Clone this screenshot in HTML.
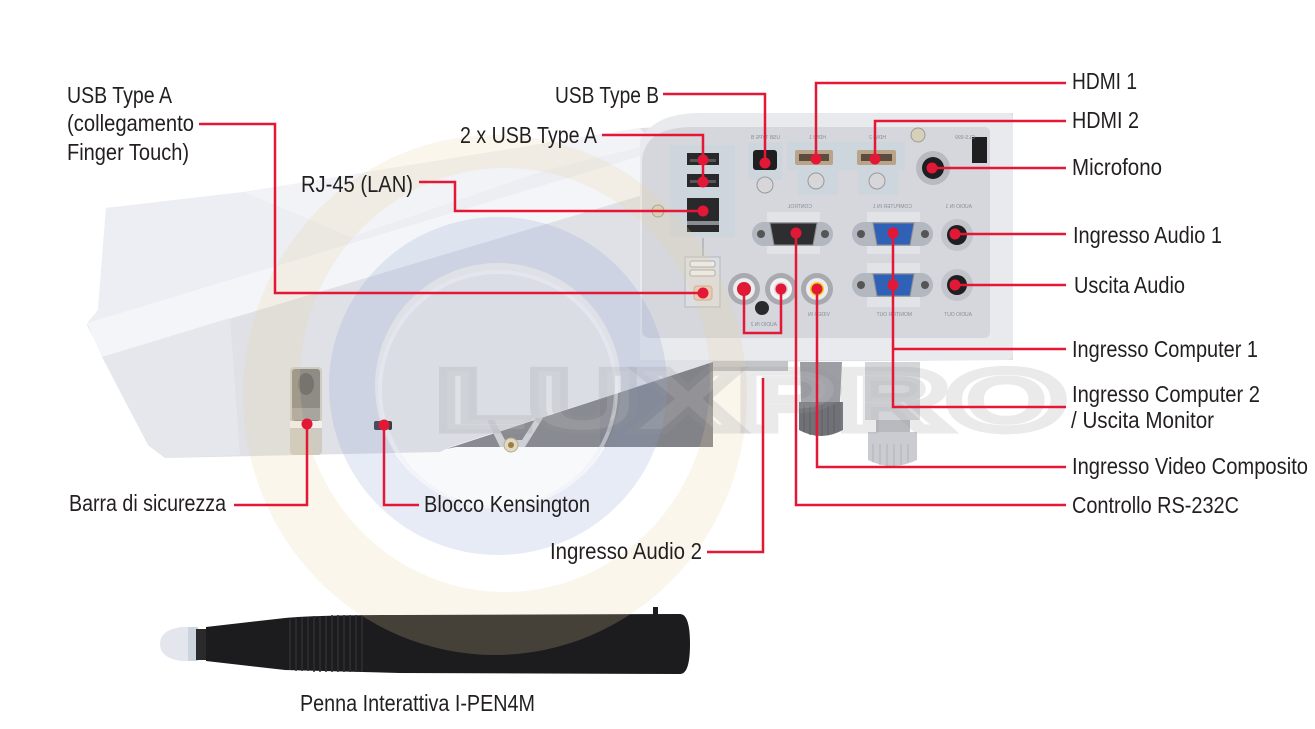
<!DOCTYPE html>
<html><head><meta charset="utf-8"><style>
html,body{margin:0;padding:0;background:#fff;}
svg{display:block;}
.t{font-family:"Liberation Sans Narrow","Liberation Sans",Arial,sans-serif;font-size:23px;fill:#231f20;}
.m{font-family:"Liberation Sans",sans-serif;font-size:5px;fill:#8a8d94;}
</style></head><body>
<svg width="1315" height="729" viewBox="0 0 1315 729" xmlns="http://www.w3.org/2000/svg">
<rect width="1315" height="729" fill="#fff"/>

<!-- projector body -->
<path d="M106,208 L244,192 L640,128 L1013,113 L1013,360 L713,362 L450,447 L440,452 L165,458 L148,445 L87,325 L98,310 Z" fill="#dfe1e7"/>
<path d="M106,208 L244,192 L640,128 L660,150 L87,323 L98,310 Z" fill="#eceef3"/>
<path d="M244,192 L640,128 L646,146 L546,170 L351,237 Z" fill="#f2f3f6"/>
<path d="M87,323 L660,150 L660,190 L102,357 Z" fill="#f4f5f8"/>
<path d="M102,357 L230,318 L240,455 L165,458 L148,445 Z" fill="#e5e7ec"/>
<!-- underside dark -->
<path d="M446,449 L713,362 L713,447 L456,447 Z" fill="#88898f"/>
<path d="M600,400 L713,362 L713,447 L600,447 Z" fill="#7c7d83" opacity="0.5"/>
<rect x="713" y="361" width="75" height="10" fill="#c4c5c9"/>
<path d="M487,420 L500,447 L525,447 L543,418 L536,418 L522,440 L505,440 L494,420 Z" fill="#d2d3d7"/>
<circle cx="511" cy="445" r="7" fill="#e7dcc0" stroke="#b9ad90"/>
<circle cx="511" cy="445" r="3" fill="#9a7b3a"/>
<!-- security bar slot -->
<rect x="290" y="367" width="32" height="88" rx="4" fill="#cfcbc1"/>
<rect x="292" y="369" width="28" height="52" rx="3" fill="#8f8c86"/>
<ellipse cx="306" cy="384" rx="8" ry="11" fill="#77746f"/>
<rect x="292" y="408" width="28" height="12" fill="#a8a59e"/>
<rect x="290" y="421" width="32" height="7" fill="#f2f1ee"/>
<rect x="374" y="421" width="18" height="9" rx="2" fill="#33353b"/>

<!-- back panel frame -->
<path d="M640,140 Q655,113 700,113 L1005,113 Q1013,113 1013,121 L1013,352 Q1013,360 1005,360 L640,360 Z" fill="#e9eaee"/>
<path d="M642,160 Q645,128 690,127 L984,127 Q990,127 990,133 L990,332 Q990,338 984,338 L650,338 Q642,338 642,330 Z" fill="#d5d7dd"/>
<rect x="670" y="145" width="65" height="92" fill="#cdd5dd"/>
<rect x="687" y="153" width="32" height="12" fill="#29292c"/>
<rect x="690" y="159" width="26" height="3" fill="#55555a"/>
<rect x="687" y="174" width="32" height="13" fill="#29292c"/>
<rect x="690" y="180" width="26" height="3" fill="#55555a"/>
<rect x="687" y="198" width="32" height="34" fill="#29292c"/>
<rect x="687" y="221" width="32" height="4" fill="#8a8e94"/>
<line x1="703" y1="238" x2="703" y2="256" stroke="#9a9da3" stroke-width="1"/>
<rect x="685" y="257" width="35" height="50" fill="#dcdee3" stroke="#b5b8be"/>
<rect x="690" y="261" width="25" height="6" rx="2" fill="#eeeff2" stroke="#aaa"/>
<rect x="690" y="270" width="25" height="6" rx="2" fill="#eeeff2" stroke="#aaa"/>
<rect x="694" y="286" width="18" height="14" rx="3" fill="#ecc9b6" stroke="#c9a592"/>
<circle cx="658" cy="211" r="6" fill="#d6d0b8" stroke="#9d9a90"/>
<rect x="748" y="143" width="34" height="37" fill="#cdd5dd"/>
<rect x="753" y="150" width="24" height="20" rx="3" fill="#1f1f22"/>
<circle cx="765" cy="185" r="8" fill="#d7d7d9" stroke="#9a9a9d"/>
<path d="M787,142 L905,142 L905,170 L898,170 L898,195 L858,195 L858,170 L838,170 L838,195 L798,195 L798,170 L787,170 Z" fill="#cdd5dd"/>
<rect x="795" y="150" width="38" height="15" rx="2" fill="#b9a489"/>
<rect x="799" y="154" width="30" height="7" fill="#5b4c3d"/>
<rect x="857" y="150" width="39" height="15" rx="2" fill="#b9a489"/>
<rect x="861" y="154" width="31" height="7" fill="#5b4c3d"/>
<circle cx="816" cy="181" r="8" fill="#d7d7d9" stroke="#9a9a9d"/>
<circle cx="877" cy="181" r="8" fill="#d7d7d9" stroke="#9a9a9d"/>
<circle cx="918" cy="135" r="7" fill="#d6d0b8" stroke="#9d9a90"/>
<circle cx="933" cy="168" r="17" fill="#b7bac1"/>
<circle cx="933" cy="168" r="11" fill="#1e1e21"/>
<rect x="972" y="137" width="15" height="26" fill="#1f1f21"/>
<rect x="767" y="212" width="53" height="42" fill="#e1e3e7"/>
<rect x="867" y="212" width="53" height="42" fill="#e1e3e7"/>
<rect x="867" y="263" width="53" height="44" fill="#e1e3e7"/>
<rect x="752" y="222" width="81" height="24" rx="12" fill="#b2b7c0"/>
<circle cx="761" cy="234" r="4" fill="#555"/>
<circle cx="825" cy="234" r="4" fill="#555"/>
<path d="M770,223 L817,223 L813,245 L774,245 Z" fill="#2e2e31" stroke="#8d8d90"/>
<rect x="852" y="222" width="81" height="24" rx="12" fill="#b2b7c0"/>
<circle cx="861" cy="234" r="4" fill="#555"/>
<circle cx="925" cy="234" r="4" fill="#555"/>
<path d="M873,223 L914,223 L910,245 L877,245 Z" fill="#2f61b6" stroke="#8d8d90"/>
<rect x="852" y="273" width="81" height="24" rx="12" fill="#b2b7c0"/>
<circle cx="861" cy="285" r="4" fill="#555"/>
<circle cx="925" cy="285" r="4" fill="#555"/>
<path d="M873,274 L914,274 L910,296 L877,296 Z" fill="#2f61b6" stroke="#8d8d90"/>
<circle cx="957" cy="235" r="16" fill="#c2c5cb"/>
<circle cx="957" cy="235" r="10" fill="#1f1f22"/>
<circle cx="957" cy="285" r="16" fill="#c2c5cb"/>
<circle cx="957" cy="285" r="10" fill="#1f1f22"/>
<circle cx="744" cy="289" r="16" fill="#a9aab0"/>
<circle cx="744" cy="289" r="11" fill="#ececee"/>
<circle cx="744" cy="289" r="7" fill="#d21f2f"/>
<circle cx="781" cy="289" r="16" fill="#a9aab0"/>
<circle cx="781" cy="289" r="11" fill="#f4f4f5"/>
<circle cx="781" cy="289" r="7" fill="#d9d9dc"/>
<circle cx="817" cy="289" r="16" fill="#a9aab0"/>
<circle cx="817" cy="289" r="11" fill="#ececee"/>
<circle cx="817" cy="289" r="7" fill="#f0cf1e"/>
<circle cx="762" cy="308" r="7" fill="#2a2a2c"/>
<g transform="scale(-1,1)">
<text class="m" x="-780" y="139">USB TYPE B</text>
<text class="m" x="-826" y="139">HDMI 1</text>
<text class="m" x="-886" y="139">HDMI 2</text>
<text class="m" x="-975" y="139">CLS-999</text>
<text class="m" x="-812" y="208">CONTROL</text>
<text class="m" x="-912" y="208">COMPUTER IN 1</text>
<text class="m" x="-972" y="208">AUDIO IN 1</text>
<text class="m" x="-830" y="316">VIDEO IN</text>
<text class="m" x="-777" y="326">AUDIO IN 2</text>
<text class="m" x="-912" y="316">MONITOR OUT</text>
<text class="m" x="-972" y="316">AUDIO OUT</text>
</g>

<!-- feet -->
<path d="M800,362 L842,362 L840,402 L801,402 Z" fill="#9d9ea3"/>
<path d="M799,402 L843,402 L843,430 Q821,442 799,430 Z" fill="#717277"/>
<g stroke="#5f6065" stroke-width="1">
<line x1="804" y1="405" x2="804" y2="432"/><line x1="810" y1="405" x2="810" y2="435"/><line x1="816" y1="405" x2="816" y2="436"/><line x1="822" y1="405" x2="822" y2="436"/><line x1="828" y1="405" x2="828" y2="435"/><line x1="834" y1="405" x2="834" y2="433"/>
</g>
<rect x="865" y="362" width="55" height="58" fill="#d4d5d9"/>
<rect x="876" y="420" width="34" height="12" fill="#b9bac0"/>
<path d="M868,432 L917,432 L917,460 Q892,472 868,460 Z" fill="#cbccd1"/>
<g stroke="#b0b1b6" stroke-width="1">
<line x1="873" y1="444" x2="873" y2="462"/><line x1="880" y1="444" x2="880" y2="465"/><line x1="887" y1="444" x2="887" y2="466"/><line x1="894" y1="444" x2="894" y2="466"/><line x1="901" y1="444" x2="901" y2="465"/><line x1="908" y1="444" x2="908" y2="462"/>
</g>

<!-- pen -->
<path d="M198,627 L181,627 Q160,630 160,644 Q160,658 181,661 L198,661 Z" fill="#e3e7ed"/>
<rect x="188" y="627" width="10" height="34" fill="#c6cfd9" opacity="0.8"/>
<rect x="196" y="629" width="10" height="31" fill="#2a2a2d"/>
<path d="M206,627 L285,618 Q320,615 400,615 L680,614 Q690,614 690,644 Q690,674 680,674 L400,673 L285,670 L206,661 Z" fill="#1c1c1f"/>
<g stroke="#2e2e32" stroke-width="1.5">
<line x1="290" y1="619" x2="290" y2="670"/><line x1="296" y1="618" x2="296" y2="671"/><line x1="302" y1="617" x2="302" y2="671"/><line x1="308" y1="617" x2="308" y2="671"/><line x1="314" y1="616" x2="314" y2="672"/><line x1="320" y1="616" x2="320" y2="672"/><line x1="326" y1="616" x2="326" y2="672"/><line x1="332" y1="615" x2="332" y2="672"/><line x1="338" y1="615" x2="338" y2="672"/><line x1="344" y1="615" x2="344" y2="672"/><line x1="350" y1="615" x2="350" y2="672"/><line x1="356" y1="615" x2="356" y2="672"/><line x1="362" y1="615" x2="362" y2="672"/>
</g>
<rect x="653" y="607" width="5" height="9" fill="#1c1c1f"/>

<!-- watermark -->
<path fill-rule="evenodd" fill="rgb(235,212,160)" fill-opacity="0.2" d="M243,395 A252,260 0 1,0 747,395 A252,260 0 1,0 243,395 Z M300,380 A205,212 0 1,1 710,380 A205,212 0 1,1 300,380 Z"/>
<circle cx="498" cy="390" r="120" fill="rgb(150,165,200)" fill-opacity="0.07"/>
<circle cx="498" cy="386" r="146" fill="none" stroke="rgb(140,165,210)" stroke-opacity="0.22" stroke-width="46"/>
<circle cx="498" cy="390" r="118" fill="none" stroke="rgb(235,240,248)" stroke-opacity="0.5" stroke-width="4"/>
<text x="437" y="429" font-family="Liberation Sans, sans-serif" font-weight="bold" font-size="84" textLength="628" lengthAdjust="spacingAndGlyphs" fill="rgb(255,255,255)" fill-opacity="0.12" stroke="rgb(150,150,155)" stroke-opacity="0.2" stroke-width="9">LUXPRO</text>

<!-- connectors -->
<g fill="none" stroke="#e31837" stroke-width="2.5">
<path d="M199,124 H275 V293 H703"/>
<path d="M663,94 H765 V163"/>
<path d="M602,135 H703 V182"/>
<path d="M419,182 H455 V211 H703"/>
<path d="M1066,83 H816 V159"/>
<path d="M1066,121 H875 V159"/>
<path d="M1066,168 H932"/>
<path d="M1066,234 H955"/>
<path d="M1066,285 H955"/>
<path d="M893,233 V407 H1066"/>
<path d="M893,349 H1066"/>
<path d="M817,289 V467 H1066"/>
<path d="M796,233 V505 H1066"/>
<path d="M707,552 H763 V378"/>
<path d="M744,289 V333 H781 V289"/>
<path d="M234,505 H307 V424"/>
<path d="M419,505 H384 V425"/>
</g>
<g fill="#e31837">
<circle cx="703" cy="293" r="5.5"/><circle cx="765" cy="163" r="5.5"/>
<circle cx="703" cy="160" r="5.5"/><circle cx="703" cy="182" r="5.5"/>
<circle cx="703" cy="211" r="5.5"/><circle cx="816" cy="159" r="5.5"/>
<circle cx="875" cy="159" r="5.5"/><circle cx="932" cy="168" r="5.5"/>
<circle cx="955" cy="234" r="5.5"/><circle cx="955" cy="285" r="5.5"/>
<circle cx="893" cy="233" r="5.5"/><circle cx="893" cy="285" r="5.5"/>
<circle cx="817" cy="289" r="5.5"/><circle cx="796" cy="233" r="5.5"/>
<circle cx="744" cy="289" r="5.5"/><circle cx="781" cy="289" r="5.5"/>
<circle cx="307" cy="424" r="5.5"/><circle cx="384" cy="425" r="5.5"/>
</g>

<!-- labels -->
<text class="t" x="67" y="103" textLength="105" lengthAdjust="spacingAndGlyphs">USB Type A</text>
<text class="t" x="67" y="131" textLength="127" lengthAdjust="spacingAndGlyphs">(collegamento</text>
<text class="t" x="67" y="160" textLength="122" lengthAdjust="spacingAndGlyphs">Finger Touch)</text>
<text class="t" x="555" y="103" textLength="104" lengthAdjust="spacingAndGlyphs">USB Type B</text>
<text class="t" x="460" y="143" textLength="137" lengthAdjust="spacingAndGlyphs">2 x USB Type A</text>
<text class="t" x="301" y="192" textLength="112" lengthAdjust="spacingAndGlyphs">RJ-45 (LAN)</text>
<text class="t" x="1072" y="89" textLength="65" lengthAdjust="spacingAndGlyphs">HDMI 1</text>
<text class="t" x="1072" y="128" textLength="67" lengthAdjust="spacingAndGlyphs">HDMI 2</text>
<text class="t" x="1072" y="175" textLength="90" lengthAdjust="spacingAndGlyphs">Microfono</text>
<text class="t" x="1073" y="243" textLength="149" lengthAdjust="spacingAndGlyphs">Ingresso Audio 1</text>
<text class="t" x="1074" y="293" textLength="111" lengthAdjust="spacingAndGlyphs">Uscita Audio</text>
<text class="t" x="1072" y="357" textLength="186" lengthAdjust="spacingAndGlyphs">Ingresso Computer 1</text>
<text class="t" x="1072" y="402" textLength="188" lengthAdjust="spacingAndGlyphs">Ingresso Computer 2</text>
<text class="t" x="1071" y="428" textLength="143" lengthAdjust="spacingAndGlyphs">/ Uscita Monitor</text>
<text class="t" x="1072" y="474" textLength="236" lengthAdjust="spacingAndGlyphs">Ingresso Video Composito</text>
<text class="t" x="1072" y="513" textLength="167" lengthAdjust="spacingAndGlyphs">Controllo RS-232C</text>
<text class="t" x="550" y="559" textLength="152" lengthAdjust="spacingAndGlyphs">Ingresso Audio 2</text>
<text class="t" x="424" y="512" textLength="166" lengthAdjust="spacingAndGlyphs">Blocco Kensington</text>
<text class="t" x="69" y="511" textLength="157" lengthAdjust="spacingAndGlyphs">Barra di sicurezza</text>
<text class="t" x="300" y="711" textLength="235" lengthAdjust="spacingAndGlyphs">Penna Interattiva I-PEN4M</text>
</svg>
</body></html>
